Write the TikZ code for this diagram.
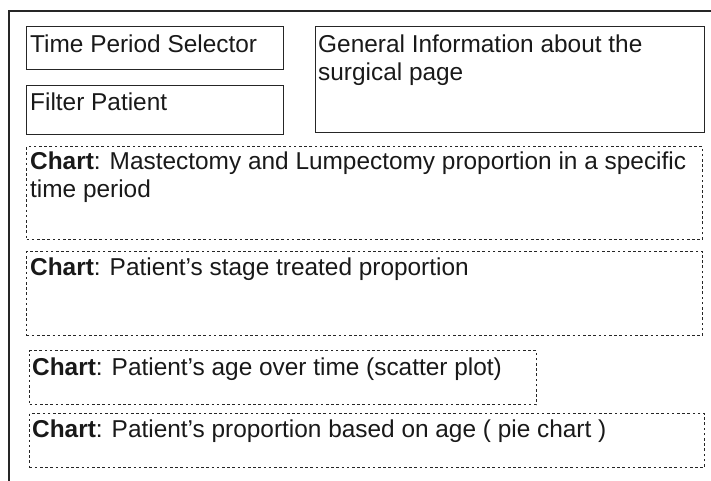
\documentclass[tikz,border=0pt]{standalone}
\usepackage{fontspec}
\setmainfont{Liberation Sans}
\tikzset{
  panel/.style={draw=black!85, line width=1.2pt, rectangle, inner sep=0pt, anchor=north west},
  chartbox/.style={draw=black!85, line width=1.2pt, dash pattern=on 2.6pt off 2.6pt, rectangle, inner sep=0pt, anchor=north west},
  lbl/.style={anchor=base west, inner sep=0pt, font=\fontsize{24.4}{28}\selectfont, align=left, text=black!90},
}
\begin{document}
\begin{tikzpicture}[x=1pt,y=-1pt]
  \useasboundingbox (0,0) rectangle (711,480);
  % page frame, running off the right and bottom edges
  \node[panel, line width=1.6pt, minimum width=760pt, minimum height=520pt] (page) at (8,10) {};

  % selectors and general information
  \node[panel, minimum width=257pt, minimum height=43pt] (period) at (26,26) {};
  \node[panel, minimum width=257pt, minimum height=49pt] (filter) at (26,85) {};
  \node[panel, minimum width=389pt, minimum height=106pt] (info) at (315,26) {};

  % chart placeholders
  \node[chartbox, minimum width=676pt, minimum height=93pt] (c1) at (26,146) {};
  \node[chartbox, minimum width=676pt, minimum height=84pt] (c2) at (26,251) {};
  \node[chartbox, minimum width=507pt, minimum height=54pt] (c3) at (29,350) {};
  \node[chartbox, minimum width=675pt, minimum height=54pt] (c4) at (29,413) {};

  % labels (two-line labels are placed by the baseline of their last line)
  \node[lbl] (tperiod) at (30,52) {Time Period Selector};
  \node[lbl] (tfilter) at (30,110) {Filter Patient};
  \node[lbl] (tinfo) at (318,80) {General Information about the\\surgical page};
  \node[lbl] (tc1) at (30,197) {\textbf{Chart}: Mastectomy and Lumpectomy proportion in a specific\\time period};
  \node[lbl] (tc2) at (30,275) {\textbf{Chart}: Patient’s stage treated proportion};
  \node[lbl] (tc3) at (32,375) {\textbf{Chart}: Patient’s age over time (scatter plot)};
  \node[lbl] (tc4) at (32,437) {\textbf{Chart}: Patient’s proportion based on age ( pie chart )};
\end{tikzpicture}
\end{document}
